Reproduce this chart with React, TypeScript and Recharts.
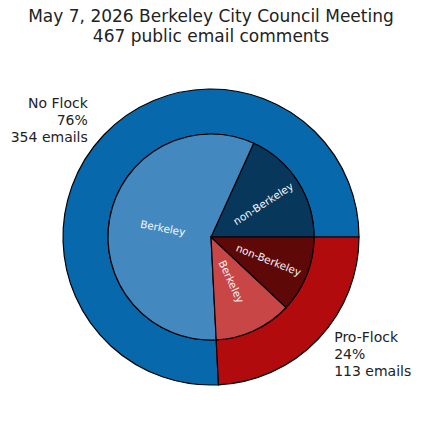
import React from 'react';
import { PieChart, Pie, Cell } from 'recharts';

const titleLines = ['May 7, 2026 Berkeley City Council Meeting', '467 public email comments'];

const stanceNames = ['No Flock', 'Pro-Flock'];
const stanceCounts = [354, 113];
const stanceColors = ['#0868ac', '#b10b0d'];

const originNames = ['non-Berkeley', 'Berkeley', 'Berkeley', 'non-Berkeley'];
const originCounts = [85, 269, 57, 56];
const originColors = ['#08375c', '#4389c0', '#c84646', '#5f0808'];

const total = stanceCounts.reduce((a, b) => a + b, 0);

const outerData = stanceNames.map((name, i) => ({ name, value: stanceCounts[i] }));
const innerData = originNames.map((name, i) => ({ name, value: originCounts[i] }));

const RAD = Math.PI / 180;
const font = '"DejaVu Sans", sans-serif';

const outerLabel = (props: any) => {
  const { cx, cy, midAngle, name, value } = props;
  const r = 170;
  const x = cx + r * Math.cos(midAngle * RAD);
  const y = cy - r * Math.sin(midAngle * RAD);
  const anchor = x > cx ? 'start' : 'end';
  const pct = Math.round((value / total) * 100);
  const lh = 16.8;
  return (
    <text x={x} y={y - lh + 5} textAnchor={anchor} fontSize={14} fontFamily={font} fill="#222">
      <tspan x={x}>{name}</tspan>
      <tspan x={x} dy={lh}>{pct}%</tspan>
      <tspan x={x} dy={lh}>{value} emails</tspan>
    </text>
  );
};

const innerLabel = (props: any) => {
  const { cx, cy, midAngle, name } = props;
  const r = name === 'Berkeley' ? 49 : 62;
  const x = cx + r * Math.cos(midAngle * RAD);
  const y = cy - r * Math.sin(midAngle * RAD);
  const rot = Math.cos(midAngle * RAD) >= 0 ? midAngle : midAngle - 180;
  return (
    <text
      x={x}
      y={y}
      textAnchor="middle"
      dominantBaseline="central"
      transform={`rotate(${-rot} ${x} ${y})`}
      fontSize={10.5}
      fontFamily={font}
      fill="#f5f5f5"
    >
      {name}
    </text>
  );
};

const App: React.FC = () => {
  return (
    <div style={{ position: 'absolute', left: 0, top: 0, width: 422, height: 432, background: '#fff' }}>
      <div
        style={{
          position: 'absolute',
          left: 0,
          top: 6,
          width: 422,
          textAlign: 'center',
          fontFamily: font,
          fontSize: 17,
          lineHeight: '20.4px',
          color: '#222',
        }}
      >
        {titleLines.map((t) => (
          <div key={t}>{t}</div>
        ))}
      </div>
      <PieChart
        width={422}
        height={432}
        margin={{ top: 0, right: 0, bottom: 0, left: 0 }}
        style={{ position: 'absolute', left: 0, top: 0 }}
      >
        <Pie
          data={outerData}
          dataKey="value"
          nameKey="name"
          cx={211}
          cy={237}
          innerRadius={103}
          outerRadius={148}
          startAngle={0}
          endAngle={360}
          stroke="#000"
          strokeWidth={1.2}
          label={outerLabel}
          labelLine={false}
          isAnimationActive={false}
        >
          {outerData.map((d, i) => (
            <Cell key={`o-${i}`} fill={stanceColors[i]} />
          ))}
        </Pie>
        <Pie
          data={innerData}
          dataKey="value"
          nameKey="name"
          cx={211}
          cy={237}
          innerRadius={0}
          outerRadius={103}
          startAngle={0}
          endAngle={360}
          stroke="#000"
          strokeWidth={1.2}
          label={innerLabel}
          labelLine={false}
          isAnimationActive={false}
        >
          {innerData.map((d, i) => (
            <Cell key={`i-${i}`} fill={originColors[i]} />
          ))}
        </Pie>
      </PieChart>
    </div>
  );
};

export default App;
